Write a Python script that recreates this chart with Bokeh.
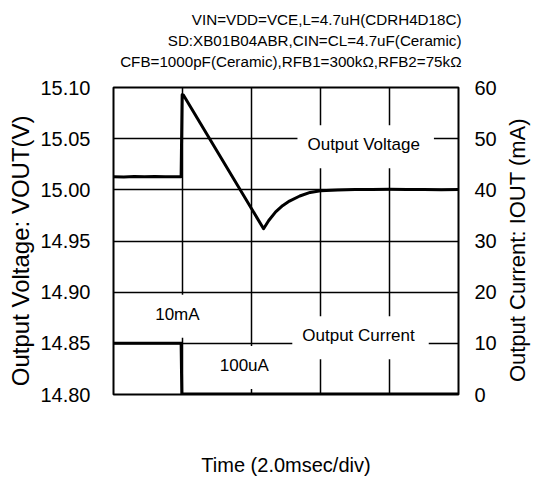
import math
from bokeh.plotting import figure
from bokeh.layouts import column, row
from bokeh.models import Range1d, LinearAxis, FixedTicker, Label, NumeralTickFormatter
from bokeh.core.properties import value
from bokeh.embed import file_html
from bokeh.resources import INLINE

FONT = "Liberation Sans"

# Output voltage trace (time in msec, voltage in V)
time_v = [0.0, 0.3, 0.6, 0.9, 1.2, 1.5, 1.8, 1.96, 1.99, 2.03, 4.35, 4.5, 4.7,
          4.9, 5.1, 5.4, 5.7, 6.0, 6.5, 7.0, 7.5, 8.0, 8.5, 9.0, 9.5, 10.0]
vout = [15.0128, 15.0126, 15.0131, 15.0127, 15.0130, 15.0128, 15.0129, 15.0128,
        15.0930, 15.0925, 14.9620, 14.9700, 14.9785, 14.9845, 14.9890, 14.9940,
        14.9975, 14.9990, 14.9998, 15.0003, 15.0004, 15.0005, 15.0003, 15.0004,
        15.0002, 15.0003]

# Output current trace (time in msec, current in mA)
time_i = [0.0, 1.96, 1.98, 10.0]
iout = [10.0, 10.0, 0.1, 0.1]

t_ticks = [0, 2, 4, 6, 8, 10]
v_ticks = [14.80, 14.85, 14.90, 14.95, 15.00, 15.05, 15.10]
i_ticks = [0, 10, 20, 30, 40, 50, 60]

title_lines = ["VIN=VDD=VCE,L=4.7uH(CDRH4D18C)",
               "SD:XB01B04ABR,CIN=CL=4.7uF(Ceramic)",
               "CFB=1000pF(Ceramic),RFB1=300k\u03a9,RFB2=75k\u03a9"]
x_label = "Time (2.0msec/div)"
y_label = "Output Voltage: VOUT(V)"
y2_label = "Output Current: IOUT (mA)"

TOP_H = 72
ROW_H = 406
LEFT_W = 37
RIGHT_W = 30
MAIN_W = 464
TOTAL_W = LEFT_W + MAIN_W + RIGHT_W


def text_panel(w, h):
    f = figure(width=w, height=h, x_range=Range1d(0, w), y_range=Range1d(0, h),
               output_backend="svg", toolbar_location=None, title=None,
               x_axis_location=None, y_axis_location=None,
               min_border=0, min_border_left=0, min_border_right=0,
               min_border_top=0, min_border_bottom=0)
    f.outline_line_color = None
    f.background_fill_color = "white"
    f.border_fill_color = "white"
    f.grid.visible = False
    return f


# ---- title block ----
top = text_panel(TOTAL_W, TOP_H)
top.text(x=[461, 461, 461], y=[TOP_H - 19, TOP_H - 40, TOP_H - 61], text=title_lines,
         text_align="right", text_baseline="alphabetic", text_color="black",
         text_font=value(FONT), text_font_size=value("15.2px"))

# ---- left axis title ----
left = text_panel(LEFT_W, ROW_H)
left.text(x=[20], y=[ROW_H - 216], text=[y_label], angle=math.pi / 2,
          text_align="center", text_baseline="middle", text_color="black",
          text_font=value(FONT), text_font_size=value("24px"))

# ---- right axis title ----
right = text_panel(RIGHT_W, ROW_H)
right.text(x=[16], y=[ROW_H - 215], text=[y2_label], angle=math.pi / 2,
           text_align="center", text_baseline="middle", text_color="black",
           text_font=value(FONT), text_font_size=value("22px"))

# ---- main chart ----
p = figure(width=MAIN_W, height=ROW_H, x_range=Range1d(0, 10), y_range=Range1d(14.80, 15.10),
           output_backend="svg", toolbar_location=None, title=None,
           min_border_left=73, min_border_right=43, min_border_top=15, min_border_bottom=83)
p.background_fill_color = "white"
p.border_fill_color = "white"
p.outline_line_color = "black"
p.outline_line_width = 2

p.extra_y_ranges = {"cur": Range1d(0, 60)}

p.xgrid.ticker = FixedTicker(ticks=t_ticks)
p.ygrid.ticker = FixedTicker(ticks=v_ticks)
for g in (p.xgrid, p.ygrid):
    g.grid_line_color = "black"
    g.grid_line_width = 1.5
    g.grid_line_alpha = 1.0

xa = p.xaxis[0]
xa.ticker = FixedTicker(ticks=t_ticks)
xa.major_label_overrides = {t: "" for t in t_ticks}
xa.major_label_text_font_size = "1px"
xa.major_label_standoff = 0
xa.axis_label = x_label
xa.axis_label_text_font_size = "20px"
xa.axis_label_standoff = 59

ya = p.yaxis[0]
ya.ticker = FixedTicker(ticks=v_ticks)
ya.formatter = NumeralTickFormatter(format="0.00")
ya.major_label_standoff = 23

ra = LinearAxis(y_range_name="cur", ticker=FixedTicker(ticks=i_ticks))
ra.major_label_standoff = 16
p.add_layout(ra, "right")

for ax in (xa, ya, ra):
    ax.axis_line_color = None
    ax.major_tick_line_color = None
    ax.minor_tick_line_color = None
    ax.major_tick_out = 0
    ax.major_tick_in = 0
    ax.minor_tick_out = 0
    ax.minor_tick_in = 0
    ax.major_label_text_font = FONT
    ax.axis_label_text_font = FONT
    ax.axis_label_text_font_style = "normal"
    ax.axis_label_text_color = "black"
    ax.major_label_text_color = "black"
for ax in (ya, ra):
    ax.major_label_text_font_size = "20px"

p.line(time_v, vout, line_color="black", line_width=3, line_join="round")
p.line(time_i, iout, y_range_name="cur", line_color="black", line_width=3, line_join="miter")


def box_label(x, y, text, rng="default"):
    lab = Label(x=x, y=y, text=text, text_font=FONT, text_font_size="17px",
                text_align="center", text_baseline="middle", text_color="black",
                background_fill_color="white", padding=(10, 14, 10, 14),
                y_range_name=rng)
    p.add_layout(lab)


box_label(7.31, 15.042, "Output Voltage")
box_label(7.16, 11.1, "Output Current", "cur")
box_label(1.91, 15.3, "10mA", "cur")
box_label(3.85, 5.3, "100uA", "cur")

layout = column(top, row(left, p, right, spacing=0), spacing=0)

open("out.html", "w").write(file_html(layout, INLINE))
